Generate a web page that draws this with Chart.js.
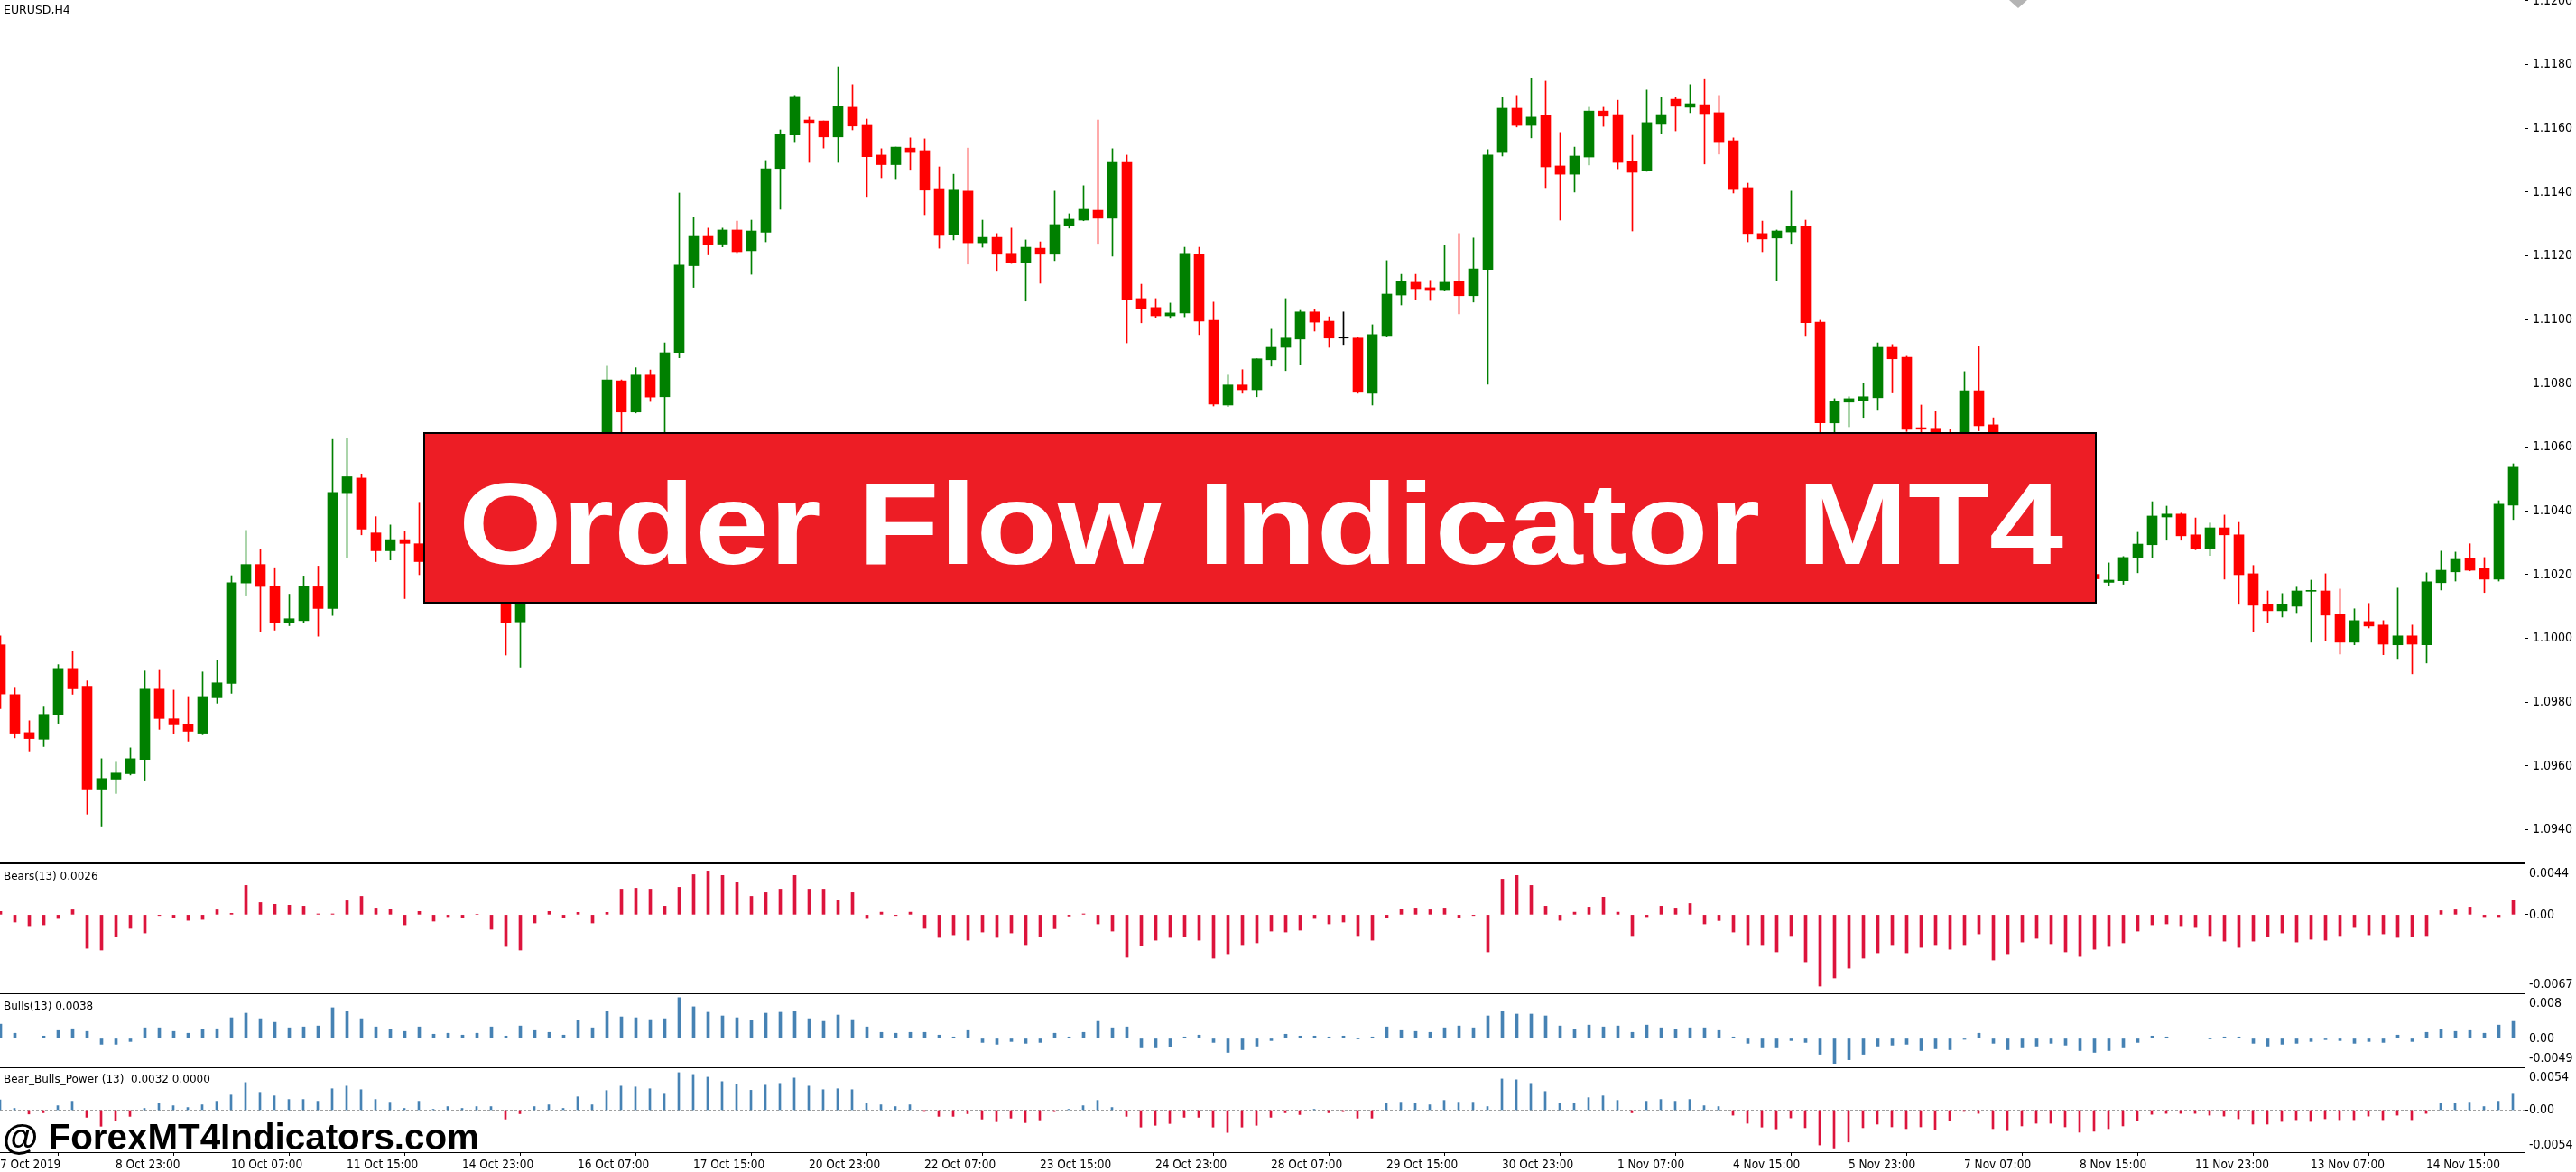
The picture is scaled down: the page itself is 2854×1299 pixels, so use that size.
<!DOCTYPE html>
<html>
<head>
<meta charset="utf-8">
<title>Order Flow Indicator MT4 - EURUSD,H4</title>
<script src="https://cdn.jsdelivr.net/npm/chart.js@4.4.1/dist/chart.umd.min.js"></script>
<style>
    html, body { margin: 0; padding: 0; background: #fff; }
    #page { position: relative; width: 2854px; height: 1299px; overflow: hidden; font-family: "DejaVu Sans", sans-serif; }
    #page canvas { position: absolute; left: 0; }
    .sep { position: absolute; left: 0; width: 2798px; height: 1px; background: #000; }
    .caption { position: absolute; left: 4px; font-size: 12px; line-height: 14px; color: #000; white-space: pre; }
    #banner { position: absolute; left: 469px; top: 479px; width: 1854px; height: 190px; box-sizing: border-box; background: #ed1d25; border: 2px solid #000; }
    #bannerText { position: absolute; left: 508px; top: 517px; font: bold 128px/128px "Liberation Sans", Arial, sans-serif; color: #fff; white-space: nowrap; transform-origin: 0 0; }
    #watermark { position: absolute; left: 3px; top: 1240px; font: bold 40px/40px "Liberation Sans", Arial, sans-serif; color: #000; white-space: nowrap; transform-origin: 0 0; }
    #shift { position: absolute; left: 2226px; top: 0; width: 0; height: 0; border-left: 10px solid transparent; border-right: 10px solid transparent; border-top: 9px solid #b4b4b4; }
</style>
</head>
<body>
<div id="page">
    <canvas id="main" width="2854" height="955" style="top:0"></canvas>
    <canvas id="bears" width="2854" height="141" style="top:958px"></canvas>
    <canvas id="bulls" width="2854" height="79" style="top:1102px"></canvas>
    <canvas id="power" width="2854" height="115" style="top:1184px"></canvas>

    <div class="sep" style="top:955px"></div>
    <div class="sep" style="top:957px"></div>
    <div class="sep" style="top:1099px"></div>
    <div class="sep" style="top:1101px"></div>
    <div class="sep" style="top:1181px"></div>
    <div class="sep" style="top:1183px"></div>
    <div class="sep" style="top:1277px"></div>

    <div class="caption" style="top:4px;font-size:12.5px">EURUSD,H4</div>
    <div class="caption" style="top:964px">Bears(13) 0.0026</div>
    <div class="caption" style="top:1108px">Bulls(13) 0.0038</div>
    <div class="caption" style="top:1189px">Bear_Bulls_Power (13)  0.0032 0.0000</div>

    <div id="shift"></div>
    <div id="banner"></div>
    <div id="bannerText">Order Flow Indicator MT4</div>
    <div id="watermark">@ ForexMT4Indicators.com</div>
</div>
<script>
// EURUSD H4, 175 bars from 7 Oct 2019 15:00
const opens = [
    1.09980, 1.09824, 1.09705, 1.09684, 1.09760, 1.09906, 1.09850, 1.09525, 1.09559, 1.09576,
    1.09621, 1.09841, 1.09748, 1.09731, 1.09703, 1.09814, 1.09859, 1.10174, 1.10232, 1.10164,
    1.10049, 1.10056, 1.10162, 1.10094, 1.10457, 1.10503, 1.10331, 1.10275, 1.10310, 1.10297,
    1.10241, 1.10280, 1.10230, 1.10180, 1.10210, 1.10170, 1.10052, 1.10180, 1.10270, 1.10340,
    1.10420, 1.10480, 1.10560, 1.10808, 1.10710, 1.10826, 1.10758, 1.10897, 1.11169, 1.11261,
    1.11237, 1.11281, 1.11216, 1.11274, 1.11474, 1.11579, 1.11626, 1.11623, 1.11573, 1.11666,
    1.11612, 1.11516, 1.11486, 1.11538, 1.11530, 1.11411, 1.11267, 1.11403, 1.11241, 1.11258,
    1.11208, 1.11179, 1.11224, 1.11205, 1.11295, 1.11312, 1.11343, 1.11318, 1.11493, 1.11066,
    1.11038, 1.11012, 1.11021, 1.11205, 1.10998, 1.10732, 1.10795, 1.10780, 1.10874, 1.10913,
    1.10939, 1.11024, 1.10995, 1.10942, 1.10942, 1.10769, 1.10950, 1.11077, 1.11117, 1.11100,
    1.11094, 1.11120, 1.11075, 1.11157, 1.11524, 1.11663, 1.11609, 1.11640, 1.11482, 1.11456,
    1.11510, 1.11654, 1.11643, 1.11496, 1.11468, 1.11615, 1.11691, 1.11666, 1.11674, 1.11649,
    1.11561, 1.11414, 1.11270, 1.11256, 1.11275, 1.11292, 1.10992, 1.10676, 1.10741, 1.10746,
    1.10755, 1.10913, 1.10882, 1.10661, 1.10659, 1.10620, 1.10600, 1.10777, 1.10670, 1.10550,
    1.10450, 1.10360, 1.10290, 1.10240, 1.10210, 1.10201, 1.10176, 1.10181, 1.10252, 1.10294,
    1.10381, 1.10390, 1.10325, 1.10280, 1.10347, 1.10325, 1.10203, 1.10107, 1.10087, 1.10101,
    1.10148, 1.10149, 1.10076, 1.09988, 1.10053, 1.10042, 1.09980, 1.10008, 1.09980, 1.10175,
    1.10209, 1.10251, 1.10220, 1.10186, 1.10418
];
const highs = [
    1.10008, 1.09847, 1.09742, 1.09785, 1.09918, 1.09960, 1.09867, 1.09623, 1.09612, 1.09657,
    1.09898, 1.09900, 1.09838, 1.09818, 1.09895, 1.09932, 1.10197, 1.10339, 1.10279, 1.10222,
    1.10139, 1.10196, 1.10227, 1.10624, 1.10627, 1.10516, 1.10382, 1.10356, 1.10336, 1.10427,
    1.10320, 1.10350, 1.10290, 1.10250, 1.10260, 1.10220, 1.10200, 1.10300, 1.10380, 1.10450,
    1.10520, 1.10600, 1.10854, 1.10811, 1.10849, 1.10842, 1.10927, 1.11397, 1.11321, 1.11287,
    1.11287, 1.11309, 1.11312, 1.11499, 1.11595, 1.11703, 1.11635, 1.11623, 1.11793, 1.11737,
    1.11629, 1.11536, 1.11541, 1.11570, 1.11567, 1.11479, 1.11456, 1.11538, 1.11312, 1.11270,
    1.11287, 1.11250, 1.11244, 1.11403, 1.11332, 1.11420, 1.11626, 1.11536, 1.11516, 1.11111,
    1.11066, 1.11052, 1.11227, 1.11227, 1.11055, 1.10826, 1.10843, 1.10877, 1.10970, 1.11066,
    1.11029, 1.11032, 1.11009, 1.11024, 1.10945, 1.10984, 1.11185, 1.11142, 1.11142, 1.11123,
    1.11233, 1.11270, 1.11256, 1.11533, 1.11697, 1.11703, 1.11756, 1.11748, 1.11587, 1.11541,
    1.11666, 1.11666, 1.11688, 1.11578, 1.11720, 1.11697, 1.11697, 1.11737, 1.11753, 1.11703,
    1.11570, 1.11428, 1.11309, 1.11281, 1.11403, 1.11312, 1.10998, 1.10752, 1.10758, 1.10800,
    1.10927, 1.10922, 1.10885, 1.10732, 1.10712, 1.10656, 1.10837, 1.10916, 1.10692, 1.10600,
    1.10500, 1.10420, 1.10350, 1.10300, 1.10270, 1.10230, 1.10237, 1.10257, 1.10333, 1.10429,
    1.10415, 1.10393, 1.10378, 1.10362, 1.10387, 1.10364, 1.10229, 1.10149, 1.10141, 1.10161,
    1.10183, 1.10203, 1.10155, 1.10093, 1.10110, 1.10056, 1.10158, 1.10042, 1.10206, 1.10274,
    1.10271, 1.10297, 1.10254, 1.10432, 1.10548
];
const lows = [
    1.09780, 1.09688, 1.09647, 1.09661, 1.09734, 1.09825, 1.09449, 1.09409, 1.09514, 1.09572,
    1.09553, 1.09715, 1.09700, 1.09678, 1.09698, 1.09797, 1.09828, 1.10133, 1.10021, 1.10026,
    1.10040, 1.10050, 1.10007, 1.10072, 1.10252, 1.10325, 1.10241, 1.10246, 1.10125, 1.10200,
    1.10180, 1.10200, 1.10150, 1.10130, 1.10140, 1.09948, 1.09910, 1.10150, 1.10220, 1.10300,
    1.10380, 1.10450, 1.10540, 1.10620, 1.10707, 1.10743, 1.10600, 1.10880, 1.11101, 1.11203,
    1.11228, 1.11210, 1.11142, 1.11244, 1.11346, 1.11558, 1.11493, 1.11538, 1.11493, 1.11595,
    1.11386, 1.11445, 1.11442, 1.11471, 1.11329, 1.11224, 1.11250, 1.11174, 1.11227, 1.11154,
    1.11176, 1.11058, 1.11114, 1.11185, 1.11287, 1.11310, 1.11239, 1.11199, 1.10927, 1.10990,
    1.11007, 1.11004, 1.11009, 1.10953, 1.10729, 1.10727, 1.10769, 1.10758, 1.10854, 1.10840,
    1.10860, 1.10964, 1.10913, 1.10922, 1.10769, 1.10732, 1.10945, 1.11046, 1.11063, 1.11060,
    1.11090, 1.11018, 1.11055, 1.10797, 1.11513, 1.11604, 1.11570, 1.11414, 1.11312, 1.11400,
    1.11485, 1.11606, 1.11473, 1.11278, 1.11465, 1.11584, 1.11592, 1.11649, 1.11488, 1.11519,
    1.11397, 1.11244, 1.11213, 1.11123, 1.11239, 1.10950, 1.10630, 1.10630, 1.10664, 1.10693,
    1.10718, 1.10770, 1.10649, 1.10600, 1.10580, 1.10560, 1.10580, 1.10651, 1.10520, 1.10420,
    1.10330, 1.10250, 1.10200, 1.10160, 1.10150, 1.10160, 1.10164, 1.10170, 1.10206, 1.10254,
    1.10308, 1.10308, 1.10278, 1.10260, 1.10186, 1.10107, 1.10022, 1.10050, 1.10067, 1.10081,
    1.09988, 1.09994, 1.09951, 1.09980, 1.10033, 1.09949, 1.09937, 1.09889, 1.09923, 1.10152,
    1.10180, 1.10212, 1.10144, 1.10180, 1.10373
];
const closes = [
    1.09826, 1.09703, 1.09686, 1.09762, 1.09906, 1.09842, 1.09525, 1.09561, 1.09578, 1.09623,
    1.09841, 1.09749, 1.09729, 1.09709, 1.09818, 1.09861, 1.10175, 1.10232, 1.10163, 1.10049,
    1.10062, 1.10164, 1.10094, 1.10458, 1.10507, 1.10343, 1.10275, 1.10310, 1.10298, 1.10241,
    1.10280, 1.10230, 1.10180, 1.10210, 1.10170, 1.10049, 1.10180, 1.10270, 1.10340, 1.10420,
    1.10480, 1.10560, 1.10811, 1.10710, 1.10826, 1.10757, 1.10896, 1.11171, 1.11261, 1.11234,
    1.11281, 1.11213, 1.11278, 1.11473, 1.11581, 1.11700, 1.11618, 1.11573, 1.11669, 1.11607,
    1.11511, 1.11486, 1.11541, 1.11524, 1.11406, 1.11264, 1.11406, 1.11241, 1.11258, 1.11205,
    1.11179, 1.11227, 1.11205, 1.11298, 1.11315, 1.11346, 1.11318, 1.11493, 1.11063, 1.11035,
    1.11012, 1.11021, 1.11208, 1.10995, 1.10735, 1.10795, 1.10780, 1.10877, 1.10913, 1.10942,
    1.11024, 1.10992, 1.10942, 1.10942, 1.10772, 1.10953, 1.11080, 1.11120, 1.11097, 1.11094,
    1.11117, 1.11075, 1.11159, 1.11516, 1.11663, 1.11609, 1.11635, 1.11479, 1.11456, 1.11513,
    1.11654, 1.11638, 1.11493, 1.11462, 1.11618, 1.11643, 1.11669, 1.11677, 1.11646, 1.11558,
    1.11408, 1.11270, 1.11253, 1.11278, 1.11292, 1.10990, 1.10676, 1.10744, 1.10752, 1.10758,
    1.10913, 1.10877, 1.10656, 1.10656, 1.10620, 1.10600, 1.10777, 1.10667, 1.10550, 1.10450,
    1.10360, 1.10290, 1.10240, 1.10210, 1.10200, 1.10187, 1.10183, 1.10254, 1.10296, 1.10384,
    1.10390, 1.10322, 1.10280, 1.10347, 1.10325, 1.10200, 1.10104, 1.10087, 1.10107, 1.10149,
    1.10150, 1.10073, 1.09988, 1.10056, 1.10039, 1.09982, 1.10008, 1.09982, 1.10178, 1.10214,
    1.10248, 1.10214, 1.10186, 1.10421, 1.10537
];

// Bears Power(13), Bulls Power(13) and the combined Bear_Bulls_Power histogram
const bears = [
    0.00028, -0.00064, -0.00096, -0.00088, -0.00033, 0.00043, -0.00293, -0.00308, -0.00190, -0.00119,
    -0.00159, -0.00007, -0.00025, -0.00049, -0.00041, 0.00043, 0.00012, 0.00256, 0.00106, 0.00091,
    0.00083, 0.00075, 0.00007, 0.00007, 0.00122, 0.00161, 0.00059, 0.00051, -0.00088, 0.00028,
    -0.00056, -0.00017, -0.00025, 0.00004, -0.00127, -0.00277, -0.00308, -0.00072, 0.00028, -0.00025,
    0.00020, -0.00072, 0.00020, 0.00224, 0.00232, 0.00224, 0.00075, 0.00240, 0.00350, 0.00382,
    0.00343, 0.00280, 0.00161, 0.00193, 0.00224, 0.00343, 0.00224, 0.00224, 0.00130, 0.00193,
    -0.00033, 0.00022, -0.00007, 0.00022, -0.00119, -0.00198, -0.00175, -0.00222, -0.00151, -0.00198,
    -0.00159, -0.00261, -0.00190, -0.00122, -0.00012, 0.00007, -0.00080, -0.00143, -0.00371, -0.00269,
    -0.00222, -0.00198, -0.00190, -0.00222, -0.00379, -0.00340, -0.00261, -0.00245, -0.00143, -0.00151,
    -0.00135, -0.00033, -0.00080, -0.00064, -0.00182, -0.00222, -0.00025, 0.00051, 0.00059, 0.00043,
    0.00059, -0.00025, -0.00007, -0.00324, 0.00311, 0.00343, 0.00256, 0.00075, -0.00049, 0.00022,
    0.00067, 0.00154, 0.00022, -0.00182, -0.00017, 0.00075, 0.00059, 0.00098, -0.00080, -0.00051,
    -0.00151, -0.00261, -0.00261, -0.00324, -0.00182, -0.00411, -0.00623, -0.00552, -0.00466, -0.00379,
    -0.00332, -0.00261, -0.00332, -0.00285, -0.00261, -0.00301, -0.00261, -0.00167, -0.00395, -0.00340,
    -0.00238, -0.00206, -0.00253, -0.00324, -0.00364, -0.00301, -0.00277, -0.00245, -0.00143, -0.00088,
    -0.00080, -0.00096, -0.00112, -0.00182, -0.00230, -0.00285, -0.00230, -0.00190, -0.00159, -0.00238,
    -0.00214, -0.00222, -0.00182, -0.00112, -0.00175, -0.00167, -0.00198, -0.00190, -0.00182, 0.00035,
    0.00043, 0.00067, -0.00017, -0.00017, 0.00130
];
const bulls = [
    0.00259, 0.00094, 0.00011, 0.00044, 0.00143, 0.00176, 0.00127, -0.00105, -0.00105, -0.00055,
    0.00193, 0.00193, 0.00127, 0.00094, 0.00160, 0.00176, 0.00375, 0.00457, 0.00358, 0.00292,
    0.00193, 0.00209, 0.00226, 0.00556, 0.00490, 0.00358, 0.00209, 0.00160, 0.00127, 0.00209,
    0.00077, 0.00094, 0.00061, 0.00094, 0.00209, 0.00044, 0.00226, 0.00143, 0.00110, 0.00061,
    0.00325, 0.00193, 0.00490, 0.00391, 0.00375, 0.00342, 0.00358, 0.00738, 0.00573, 0.00474,
    0.00408, 0.00375, 0.00325, 0.00457, 0.00474, 0.00490, 0.00358, 0.00309, 0.00424, 0.00342,
    0.00209, 0.00110, 0.00094, 0.00110, 0.00110, 0.00061, 0.00028, 0.00143, -0.00072, -0.00105,
    -0.00055, -0.00088, -0.00072, 0.00094, 0.00028, 0.00110, 0.00309, 0.00193, 0.00209, -0.00171,
    -0.00171, -0.00154, 0.00028, 0.00061, -0.00072, -0.00253, -0.00204, -0.00138, -0.00039, 0.00077,
    0.00044, 0.00044, 0.00028, 0.00044, -0.00011, 0.00028, 0.00209, 0.00143, 0.00127, 0.00110,
    0.00193, 0.00226, 0.00193, 0.00408, 0.00490, 0.00441, 0.00441, 0.00408, 0.00226, 0.00160,
    0.00242, 0.00209, 0.00226, 0.00110, 0.00242, 0.00193, 0.00160, 0.00193, 0.00193, 0.00143,
    0.00028, -0.00088, -0.00171, -0.00171, -0.00039, -0.00072, -0.00287, -0.00452, -0.00386, -0.00287,
    -0.00138, -0.00121, -0.00105, -0.00220, -0.00187, -0.00204, -0.00017, 0.00094, -0.00088, -0.00204,
    -0.00171, -0.00138, -0.00088, -0.00121, -0.00220, -0.00253, -0.00220, -0.00171, -0.00072, 0.00044,
    0.00028, 0.00011, 0.00011, -0.00011, 0.00028, 0.00028, -0.00088, -0.00138, -0.00105, -0.00088,
    -0.00055, -0.00022, -0.00039, -0.00088, -0.00055, -0.00072, 0.00061, -0.00055, 0.00110, 0.00160,
    0.00127, 0.00143, 0.00094, 0.00242, 0.00309
];
const power = [
    0.00134, 0.00023, -0.00050, -0.00034, 0.00057, 0.00115, -0.00092, -0.00207, -0.00138, -0.00080,
    0.00023, 0.00092, 0.00057, 0.00034, 0.00069, 0.00115, 0.00195, 0.00356, 0.00230, 0.00184,
    0.00138, 0.00138, 0.00115, 0.00276, 0.00310, 0.00264, 0.00138, 0.00103, 0.00023, 0.00115,
    0.00011, 0.00046, 0.00023, 0.00046, 0.00046, -0.00115, -0.00046, 0.00046, 0.00069, 0.00023,
    0.00172, 0.00069, 0.00253, 0.00310, 0.00299, 0.00276, 0.00218, 0.00483, 0.00460, 0.00425,
    0.00368, 0.00333, 0.00257, 0.00322, 0.00345, 0.00414, 0.00310, 0.00264, 0.00276, 0.00264,
    0.00092, 0.00069, 0.00046, 0.00069, -0.00004, -0.00080, -0.00080, -0.00046, -0.00115, -0.00149,
    -0.00103, -0.00161, -0.00126, -0.00008, 0.00011, 0.00057, 0.00126, 0.00034, -0.00080, -0.00218,
    -0.00195, -0.00172, -0.00092, -0.00092, -0.00218, -0.00287, -0.00218, -0.00195, -0.00092, -0.00034,
    -0.00057, 0.00011, -0.00034, -0.00008, -0.00103, -0.00103, 0.00092, 0.00103, 0.00092, 0.00069,
    0.00126, 0.00103, 0.00103, 0.00046, 0.00402, 0.00391, 0.00345, 0.00241, 0.00092, 0.00092,
    0.00161, 0.00184, 0.00126, -0.00034, 0.00115, 0.00138, 0.00115, 0.00138, 0.00057, 0.00046,
    -0.00065, -0.00169, -0.00218, -0.00241, -0.00100, -0.00226, -0.00448, -0.00487, -0.00410, -0.00226,
    -0.00180, -0.00215, -0.00238, -0.00215, -0.00249, -0.00134, -0.00004, -0.00042, -0.00238, -0.00264,
    -0.00203, -0.00169, -0.00169, -0.00215, -0.00284, -0.00272, -0.00238, -0.00203, -0.00134, -0.00054,
    -0.00042, -0.00042, -0.00042, -0.00065, -0.00077, -0.00111, -0.00180, -0.00180, -0.00146, -0.00123,
    -0.00146, -0.00111, -0.00123, -0.00123, -0.00077, -0.00123, -0.00065, -0.00123, -0.00042, 0.00092,
    0.00092, 0.00103, 0.00046, 0.00115, 0.00218
];

// axis labels
const priceTicks = [1.094, 1.096, 1.098, 1.100, 1.102, 1.104, 1.106, 1.108, 1.110, 1.112, 1.114, 1.116, 1.118, 1.120];
const timeTickBars = [0, 8, 16, 24, 32, 40, 48, 56, 64, 72, 80, 88, 96, 104, 112, 120, 128, 136, 144, 152, 160, 168];
const timeLabels = [
    '7 Oct 2019', '8 Oct 23:00', '10 Oct 07:00', '11 Oct 15:00', '14 Oct 23:00', '16 Oct 07:00',
    '17 Oct 15:00', '20 Oct 23:00', '22 Oct 07:00', '23 Oct 15:00', '24 Oct 23:00', '28 Oct 07:00',
    '29 Oct 15:00', '30 Oct 23:00', '1 Nov 07:00', '4 Nov 15:00', '5 Nov 23:00', '7 Nov 07:00',
    '8 Nov 15:00', '11 Nov 23:00', '13 Nov 07:00', '14 Nov 15:00'
];
const bearsTicks = [0.0044, 0, -0.0067];
const bearsTickLabels = ['0.0044', '0.00', '-0.0067'];
const bullsTicks = [0.008, 0, -0.0049];
const bullsTickLabels = ['0.008', '0.00', '-0.0049'];
const powerTicks = [0.0054, 0, -0.0054];
const powerTickLabels = ['0.0054', '0.00', '-0.0054'];

const GREEN = '#008000';
const RED = '#ff0000';
const CRIMSON = '#dc143c';
const STEEL = '#4682b4';
const AXIS_FONT = '"DejaVu Sans Condensed", "DejaVu Sans", sans-serif';

const PX_PER_BAR = 16;
const PLOT_WIDTH = 2797;
const AXIS_WIDTH = 57;

Chart.defaults.font.family = AXIS_FONT;
Chart.defaults.font.size = 14;
Chart.defaults.color = '#000';
Chart.defaults.animation = false;

function fixAxis(scale) {
    scale.width = AXIS_WIDTH;
    scale.paddingTop = 0;
    scale.paddingBottom = 0;
}

function barAxis(xMin) {
    return {
        type: 'linear', bounds: 'data', offset: false, display: false,
        min: xMin, max: xMin + PLOT_WIDTH / PX_PER_BAR,
        grid: { offset: false }
    };
}

function baseOptions() {
    return {
        responsive: false,
        events: [],
        layout: { padding: 0 },
        plugins: { legend: { display: false }, tooltip: { enabled: false } }
    };
}

// MT4 keeps the top and bottom labels of a sub-window inside it
const panelLabels = {
    id: 'panelLabels',
    afterDraw(chart, args, opts) {
        var s = chart.scales.y;
        var area = chart.chartArea;
        var ctx = chart.ctx;
        ctx.save();
        ctx.font = '14px ' + AXIS_FONT;
        ctx.fillStyle = '#000';
        ctx.textAlign = 'left';
        ctx.textBaseline = 'middle';
        opts.values.forEach(function (v, k) {
            var y = Math.min(Math.max(s.getPixelForValue(v), area.top + 10), area.bottom - 8);
            ctx.fillText(opts.texts[k], s.left + 5, y);
        });
        ctx.restore();
    }
};

function panelAxis(min, max) {
    return {
        position: 'right', bounds: 'data', min: min, max: max,
        afterBuildTicks: function (s) { s.ticks = [{ value: 0 }]; },
        afterFit: fixAxis,
        ticks: { display: false },
        grid: { drawOnChartArea: false, tickLength: 4, color: '#000' },
        border: { color: '#000' }
    };
}

function candleColor(i) {
    if (closes[i] > opens[i]) return GREEN;
    if (closes[i] < opens[i]) return RED;
    return '#000';
}

function draw_main() {
    var colors = opens.map(function (_, i) { return candleColor(i); });
    var opts = baseOptions();
    opts.scales = {
        x: barAxis(-0.5 / PX_PER_BAR),
        y: {
            position: 'right', bounds: 'data', min: 1.093, max: 1.120025,
            afterBuildTicks: function (s) { s.ticks = priceTicks.map(function (v) { return { value: v }; }); },
            afterFit: fixAxis,
            ticks: { padding: 5, callback: function (v) { return v.toFixed(4); } },
            grid: { drawOnChartArea: false, tickLength: 4, color: '#000' },
            border: { color: '#000' }
        }
    };
    new Chart(document.getElementById('main'), {
        type: 'bar',
        data: {
            datasets: [{
                label: 'body',
                data: opens.map(function (o, i) { return { x: i, y: [o, closes[i]] }; }),
                backgroundColor: colors,
                barThickness: 11,
                minBarLength: 1,
                grouped: false,
                order: 0
            }, {
                label: 'wick',
                data: lows.map(function (l, i) { return { x: i, y: [l, highs[i]] }; }),
                backgroundColor: colors,
                barThickness: 1,
                grouped: false,
                order: 1
            }]
        },
        options: opts
    });
}

function draw_panel(id, values, colors, thickness, range, ticks, texts) {
    var opts = baseOptions();
    opts.plugins.panelLabels = { values: ticks, texts: texts };
    opts.scales = { x: barAxis(-0.5 / PX_PER_BAR), y: panelAxis(range[0], range[1]) };
    new Chart(document.getElementById(id), {
        type: 'bar',
        data: {
            datasets: [{
                data: values.map(function (v, i) { return { x: i, y: v }; }),
                backgroundColor: colors,
                barThickness: thickness,
                grouped: false
            }]
        },
        options: opts,
        plugins: [panelLabels]
    });
}

function draw_power() {
    var xMax = PLOT_WIDTH / PX_PER_BAR;
    var opts = baseOptions();
    opts.plugins.panelLabels = { values: powerTicks, texts: powerTickLabels };
    opts.scales = {
        x: {
            type: 'linear', bounds: 'data', offset: false, position: 'bottom',
            min: 0, max: xMax,
            afterBuildTicks: function (s) { s.ticks = timeTickBars.map(function (v) { return { value: v }; }); },
            afterFit: function (s) { s.height = 22; s.paddingLeft = 0; s.paddingRight = 0; },
            ticks: {
                callback: function (v, i) { return timeLabels[i]; },
                align: 'start', autoSkip: false, maxRotation: 0, padding: 2,
                font: { size: 13.5 }
            },
            grid: { drawOnChartArea: false, tickLength: 4, color: '#000' },
            border: { display: false }
        },
        y: panelAxis(-0.0054, 0.0054)
    };
    new Chart(document.getElementById('power'), {
        type: 'bar',
        data: {
            datasets: [{
                data: power.map(function (v, i) { return { x: i, y: v }; }),
                backgroundColor: power.map(function (v) { return v >= 0 ? STEEL : CRIMSON; }),
                barThickness: 2,
                grouped: false,
                order: 0
            }, {
                type: 'line',
                data: [{ x: 0, y: 0 }, { x: xMax, y: 0 }],
                borderColor: '#a0a0a0',
                borderWidth: 1,
                borderDash: [3, 2],
                pointRadius: 0,
                order: 1
            }]
        },
        options: opts,
        plugins: [panelLabels]
    });
}

function stretch_to(id, width) {
    var el = document.getElementById(id);
    el.style.transform = 'none';
    var w = el.getBoundingClientRect().width;
    el.style.transform = 'scaleX(' + (width / w) + ')';
}

function fit_texts() {
    stretch_to('bannerText', 1778);
    stretch_to('watermark', 528);
}

draw_main();
draw_panel('bears', bears, bears.map(function () { return CRIMSON; }), 3, [-0.0067, 0.0044], bearsTicks, bearsTickLabels);
draw_panel('bulls', bulls, bulls.map(function () { return STEEL; }), 3, [-0.0049, 0.008], bullsTicks, bullsTickLabels);
draw_power();
fit_texts();
if (document.fonts) {
    document.fonts.ready.then(fit_texts);
}
</script>
</body>
</html>
